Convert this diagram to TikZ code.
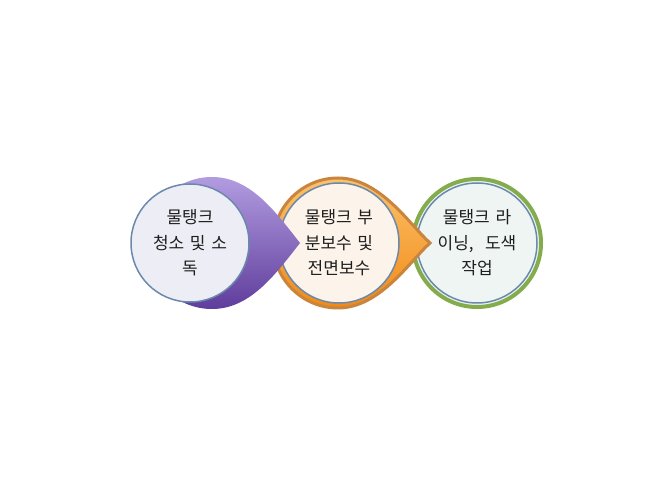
\documentclass[tikz,border=0pt]{standalone}
\usepackage{fontspec}
\newfontfamily\kr[WordSpace=1.5]{Noto Sans CJK KR}
\usetikzlibrary{positioning}

\definecolor{faceline}{HTML}{6B89AD}
\definecolor{textcol}{HTML}{1E1E1E}
\definecolor{purpletop}{HTML}{B29CE0}
\definecolor{purplemid}{HTML}{8C66C8}
\definecolor{purplebot}{HTML}{5F3D9C}
\definecolor{orangetop}{HTML}{FBC26C}
\definecolor{orangebot}{HTML}{F28A14}
\definecolor{orangering}{HTML}{C9843E}
\definecolor{greenring}{HTML}{84AC4C}
\definecolor{faceA}{HTML}{EDEDF5}
\definecolor{faceB}{HTML}{FCF3EB}
\definecolor{faceC}{HTML}{EEF5F3}

\begin{document}
\begin{tikzpicture}[x=1pt, y=1pt,
  face/.style={circle, minimum size=120pt, inner sep=0pt, draw=faceline,
    line width=1.5pt, align=center, text=textcol,
    font=\kr\fontsize{17}{25.5}\selectfont}]
  \useasboundingbox (0,0) rectangle (650,487);

  % third step
  \node[circle, minimum size=128pt, draw=greenring, line width=4pt, fill=faceC] (ring3) at (477,244) {};
  \node[face, fill=faceC] (step3) at (477,244) {물탱크 라\\이닝,~ 도색\\작업};

  % second step
  \shadedraw[top color=orangetop, bottom color=orangebot, draw=orangering, line width=3pt]
    (430,244) .. controls (410,262) and (380,309) .. (338,309)
    arc[start angle=90, end angle=270, radius=65]
    .. controls (380,179) and (410,226) .. (430,244) -- cycle;
  \node[face, fill=faceB] (step2) at (339,244) {물탱크 부\\분보수 및\\전면보수};

  % first step
  \shade[top color=purpletop, middle color=purplemid, bottom color=purplebot]
    (300,244) .. controls (275,276) and (250,310) .. (212,310)
    arc[start angle=90, end angle=270, radius=66]
    .. controls (250,178) and (275,212) .. (300,244) -- cycle;
  \node[face, fill=faceA, minimum size=118pt] (step1) at (190,244) {물탱크\\청소 및 소\\독};
\end{tikzpicture}
\end{document}
